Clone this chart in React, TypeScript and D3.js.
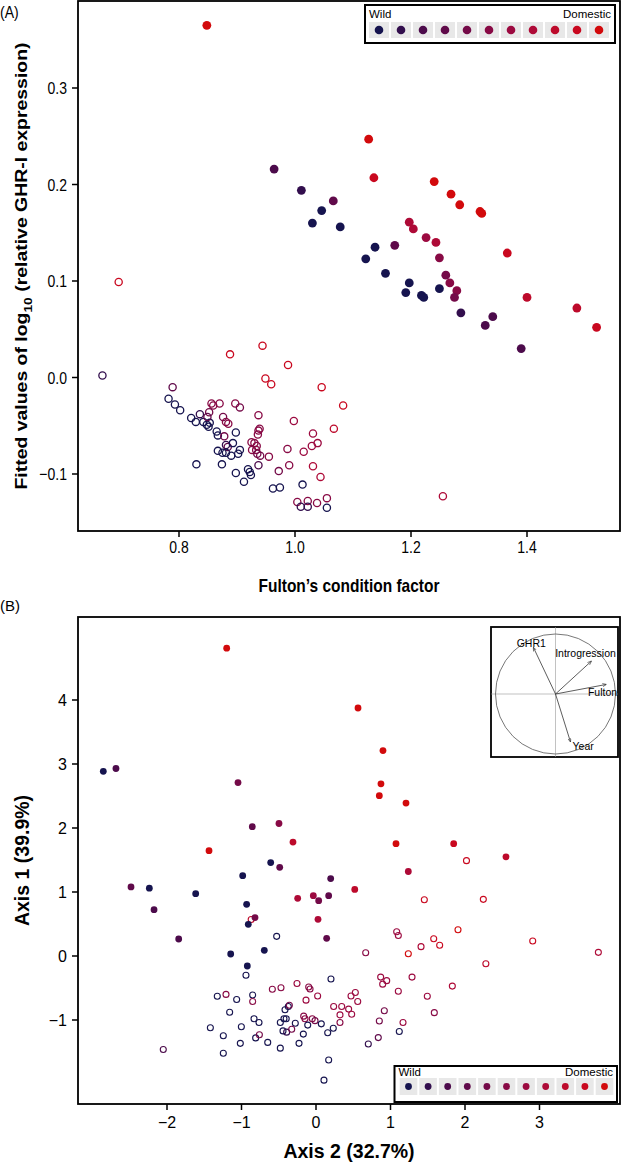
import React from "react";
import * as d3 from "d3";

// ---------- data ----------
const palette = ["#16144f", "#320e4d", "#4c0b4b", "#600a4a", "#740a48", "#880a45", "#9c0a40", "#ae0a37", "#bd0a2b", "#c9081f", "#d20a0c"];

// Panel A: [Fulton, fitted log10 GHR-I, colour index]
const aFilled: [number, number, number][] = [
  [0.848, 0.365, 10], [0.964, 0.216, 2], [1.011, 0.194, 1], [1.066, 0.183, 3], [1.046, 0.173, 0],
  [1.030, 0.160, 0], [1.078, 0.156, 0], [1.127, 0.247, 10], [1.136, 0.207, 9], [1.240, 0.203, 10],
  [1.269, 0.190, 10], [1.284, 0.179, 10], [1.319, 0.172, 10], [1.322, 0.170, 10], [1.366, 0.129, 9],
  [1.197, 0.161, 7], [1.204, 0.154, 7], [1.226, 0.145, 6], [1.243, 0.140, 7], [1.249, 0.124, 5],
  [1.260, 0.106, 4], [1.267, 0.098, 5], [1.279, 0.090, 5], [1.275, 0.083, 4], [1.138, 0.135, 0],
  [1.172, 0.137, 3], [1.122, 0.123, 0], [1.156, 0.108, 0], [1.197, 0.098, 0], [1.191, 0.088, 0],
  [1.218, 0.085, 0], [1.222, 0.083, 0], [1.249, 0.092, 0], [1.286, 0.067, 1], [1.341, 0.063, 2],
  [1.328, 0.054, 2], [1.400, 0.083, 8], [1.486, 0.072, 8], [1.520, 0.052, 9], [1.390, 0.030, 2],
];
const aOpen: [number, number, number][] = [
  [0.696, 0.099, 9], [0.668, 0.002, 1], [0.888, 0.024, 9], [0.944, 0.033, 9], [0.988, 0.013, 9],
  [0.949, -0.001, 9], [0.959, -0.007, 9], [1.046, -0.010, 9], [1.083, -0.029, 9], [0.789, -0.010, 3],
  [0.782, -0.022, 0], [0.793, -0.028, 0], [0.802, -0.034, 0], [0.821, -0.042, 0], [0.829, -0.046, 0],
  [0.836, -0.038, 1], [0.842, -0.046, 0], [0.848, -0.049, 0], [0.853, -0.047, 0], [0.851, -0.051, 0],
  [0.856, -0.027, 5], [0.859, -0.029, 5], [0.870, -0.027, 5], [0.852, -0.036, 4], [0.849, -0.041, 3],
  [0.897, -0.027, 5], [0.905, -0.031, 4], [0.876, -0.041, 4], [0.881, -0.046, 5], [0.885, -0.048, 5],
  [0.865, -0.056, 0], [0.867, -0.060, 0], [0.898, -0.057, 0], [0.878, -0.061, 4], [0.881, -0.070, 1],
  [0.884, -0.072, 3], [0.893, -0.068, 0], [0.867, -0.076, 0], [0.875, -0.078, 0], [0.881, -0.078, 0],
  [0.890, -0.081, 0], [0.905, -0.075, 0], [0.902, -0.079, 0], [0.937, -0.039, 5], [0.939, -0.053, 5],
  [0.937, -0.055, 5], [0.936, -0.059, 5], [0.925, -0.067, 5], [0.930, -0.068, 5], [0.934, -0.071, 5],
  [0.926, -0.075, 5], [0.933, -0.075, 5], [0.935, -0.079, 4], [0.940, -0.081, 4], [0.955, -0.082, 5],
  [0.998, -0.045, 6], [0.987, -0.074, 5], [1.015, -0.077, 6], [1.031, -0.058, 6], [1.029, -0.071, 6],
  [1.039, -0.068, 6], [1.067, -0.053, 8], [1.031, -0.092, 7], [0.990, -0.091, 5], [0.972, -0.097, 4],
  [1.044, -0.103, 7], [0.830, -0.090, 0], [0.874, -0.090, 0], [0.898, -0.099, 0], [0.919, -0.095, 0],
  [0.922, -0.098, 0], [0.924, -0.101, 0], [0.937, -0.091, 2], [0.912, -0.108, 0], [0.962, -0.115, 0],
  [0.974, -0.114, 0], [1.013, -0.111, 0], [1.004, -0.129, 5], [1.022, -0.128, 5], [1.038, -0.130, 5],
  [1.010, -0.134, 1], [1.022, -0.134, 1], [1.055, -0.125, 5], [1.055, -0.135, 0], [1.255, -0.123, 7],
];

// Panel B: [Axis 2, Axis 1, colour index]
const bFilled: [number, number, number][] = [
  [-1.199, 4.81, 10], [0.564, 3.875, 10], [0.899, 3.21, 10], [0.872, 2.69, 10], [0.85, 2.505, 10],
  [1.208, 2.39, 10], [-2.855, 2.885, 0], [-2.685, 2.93, 2], [-1.047, 2.71, 4], [-0.855, 2.02, 3],
  [-0.497, 2.07, 5], [-0.309, 1.78, 8], [-1.436, 1.645, 10], [1.074, 1.755, 10], [1.848, 1.755, 9],
  [2.55, 1.55, 8], [1.239, 1.32, 7], [-0.608, 1.46, 0], [-0.487, 1.385, 3], [-0.984, 1.255, 0],
  [0.197, 1.21, 2], [-2.483, 1.08, 3], [-2.237, 1.06, 0], [0.52, 1.04, 8], [-1.615, 0.974, 0],
  [-2.174, 0.724, 2], [-0.931, 0.807, 0], [-0.246, 0.901, 7], [-0.036, 0.943, 6], [0.036, 0.865, 4],
  [0.170, 0.943, 3], [0.027, 0.573, 7], [-0.819, 0.60, 4], [-0.909, 0.495, 0], [0.143, 0.276, 3],
  [-1.843, 0.266, 2], [-1.145, 0.031, 0], [-0.694, 0.089, 0], [-0.922, -0.156, 0],
];
const bOpen: [number, number, number][] = [
  [-0.87, 0.57, 8], [-0.528, 0.307, 0], [-0.94, -0.30, 0], [-1.325, -0.63, 0], [-1.208, -0.60, 5],
  [-1.065, -0.68, 0], [-0.85, -0.61, 0], [-0.85, -0.71, 5], [-1.159, -0.88, 0], [-1.418, -1.12, 0],
  [-1.244, -1.245, 0], [-1.002, -1.105, 0], [-1.016, -1.365, 0], [-1.244, -1.52, 0], [-2.05, -1.46, 2],
  [-0.832, -0.98, 0], [-0.765, -1.04, 0], [-0.81, -1.28, 0], [-0.76, -1.23, 4], [-0.648, -1.35, 0],
  [-0.479, -1.44, 0], [-0.586, -0.52, 5], [-0.47, -0.495, 5], [-0.255, -0.43, 6], [-0.098, -0.485, 5],
  [-0.08, -0.515, 5], [-0.134, -0.69, 6], [0.022, -0.625, 6], [0.201, -0.36, 0], [-0.416, -0.84, 0],
  [-0.372, -0.79, 0], [-0.358, -0.77, 4], [-0.43, -0.98, 0], [-0.40, -0.98, 0], [-0.479, -1.04, 0],
  [-0.278, -1.05, 0], [-0.443, -1.17, 0], [-0.394, -1.19, 1], [-0.326, -1.145, 4], [-0.165, -0.94, 5],
  [-0.148, -0.98, 5], [-0.111, -1.08, 0], [-0.05, -0.98, 5], [-0.013, -1.01, 4], [0.071, -1.06, 0],
  [-0.17, -1.22, 0], [-0.228, -1.365, 0], [0.157, -1.20, 0], [0.232, -1.13, 0], [0.17, -1.625, 0],
  [0.107, -1.94, 0], [0.237, -0.79, 6], [0.345, -0.79, 6], [0.322, -0.92, 6], [0.322, -1.04, 5],
  [0.438, -0.83, 6], [0.479, -0.91, 6], [0.47, -0.625, 6], [0.528, -0.57, 6], [0.56, -0.71, 6],
  [2.02, 1.49, 9], [1.454, 0.88, 9], [2.246, 0.885, 9], [1.906, 0.41, 10], [2.909, 0.234, 9],
  [3.79, 0.057, 7], [1.58, 0.27, 9], [1.66, 0.167, 9], [1.41, 0.146, 7], [1.239, 0.036, 10],
  [2.28, -0.12, 8], [1.083, 0.38, 6], [1.105, 0.32, 6], [0.667, 0.05, 5], [0.868, -0.33, 6],
  [0.949, -0.385, 6], [0.895, -0.44, 6], [1.289, -0.33, 6], [1.105, -0.55, 6], [1.83, -0.47, 7],
  [1.494, -0.63, 6], [1.588, -0.885, 5], [0.917, -0.855, 4], [0.85, -1.015, 4], [1.168, -1.04, 6],
  [1.118, -1.18, 0], [0.836, -1.275, 3], [0.702, -1.375, 1],
];

const aXTicks = [0.8, 1.0, 1.2, 1.4];
const aYTicks = [-0.1, 0.0, 0.1, 0.2, 0.3];
const bXTicks = [-2, -1, 0, 1, 2, 3];
const bYTicks = [-1, 0, 1, 2, 3, 4];

// correlation circle loadings: [label, axis2, axis1]
const loadings: [string, number, number][] = [
  ["GHR1", -0.37, 0.78],
  ["Introgression", 0.6, 0.55],
  ["Fulton", 0.85, 0.16],
  ["Year", 0.25, -0.8],
];
const legendEnds = ["Wild", "Domestic"];

const FONT = "'Liberation Sans', Arial, Helvetica, sans-serif";
const KA = 1.2; // vertical stretch of panel A text

function Legend({ x0, step, right, top, bottom, cellTop, cellH, dotY, r, textY }: any) {
  const left = x0 - 14;
  return (
    <g>
      <rect x={left} y={top} width={right - left} height={bottom - top} fill="white" stroke="black" strokeWidth={2} />
      {palette.map((c, i) => (
        <g key={i}>
          <rect x={x0 + i * step - (step - 2) / 2} y={cellTop} width={step - 2} height={cellH} fill="#e8e8e8" />
          <circle cx={x0 + i * step} cy={dotY} r={r} fill={c} />
        </g>
      ))}
      <text x={left + 4} y={textY} fontSize={11.5} fontFamily={FONT}>{legendEnds[0]}</text>
      <text x={right - 4} y={textY} fontSize={11.5} fontFamily={FONT} textAnchor="end">{legendEnds[1]}</text>
    </g>
  );
}

export default function App() {
  const L = 78, R = 620;
  // Panel A
  const aTop = 1, aBot = 531;
  const xA = d3.scaleLinear().domain([0.8, 1.4]).range([179, 527]);
  const yA = d3.scaleLinear().domain([0, 0.3]).range([377.5, 88]);
  // Panel B
  const bTop = 617, bBot = 1104;
  const xB = d3.scaleLinear().domain([0, 3]).range([316, 539.5]);
  const yB = d3.scaleLinear().domain([0, 4]).range([956, 700]);
  // Inset
  const ix = 491, iy = 627, iw = 127, ih = 130;
  const cx = 555.5, cy = 694, cr = 60;
  const sx = d3.scaleLinear().domain([-1, 1]).range([cx - cr, cx + cr]);
  const sy = d3.scaleLinear().domain([-1, 1]).range([cy + cr, cy - cr]);
  const labelOffsets: Record<string, [number, number, string]> = {
    GHR1: [-2, -0.5, "middle"],
    Introgression: [-6, -4, "middle"],
    Fulton: [-4, 12, "middle"],
    Year: [2, 8, "start"],
  };

  const fmtA = (t: number) => (t < 0 ? "\u2212" + Math.abs(t).toFixed(1) : t.toFixed(1));
  const fmtB = (t: number) => (t < 0 ? "\u2212" + Math.abs(t) : String(t));

  return (
    <svg width={624} height={1166} style={{ position: "absolute", left: 0, top: 0, background: "white" }} fontFamily={FONT}>
      <defs>
        <marker id="ah" viewBox="0 0 10 10" refX="10" refY="5" markerWidth="5" markerHeight="5" orient="auto">
          <path d="M0,1 L10,5 L0,9" fill="none" stroke="#333" strokeWidth={1.5} />
        </marker>
      </defs>

      {/* ---------- Panel A ---------- */}
      <text transform={`translate(0,18) scale(1,${KA})`} fontSize={14}>(A)</text>
      {aOpen.map((d, i) => (
        <circle key={"ao" + i} cx={xA(d[0])} cy={yA(d[1])} r={3.6} fill="none" stroke={palette[d[2]]} strokeWidth={1.3} />
      ))}
      {aFilled.map((d, i) => (
        <circle key={"af" + i} cx={xA(d[0])} cy={yA(d[1])} r={4.4} fill={palette[d[2]]} />
      ))}
      <rect x={L} y={aTop} width={R - L} height={aBot - aTop} fill="none" stroke="black" strokeWidth={1.8} />
      {aXTicks.map((t) => (
        <g key={"axt" + t}>
          <line x1={xA(t)} x2={xA(t)} y1={aBot} y2={aBot + 6} stroke="black" strokeWidth={1.5} />
          <text transform={`translate(${xA(t)},${aBot + 22}) scale(1,${KA})`} fontSize={14} textAnchor="middle">{fmtA(t)}</text>
        </g>
      ))}
      {aYTicks.map((t) => (
        <g key={"ayt" + t}>
          <line x1={L - 6} x2={L} y1={yA(t)} y2={yA(t)} stroke="black" strokeWidth={1.5} />
          <text transform={`translate(${L - 11},${yA(t) + 6}) scale(1,${KA})`} fontSize={14} textAnchor="end">{fmtA(t)}</text>
        </g>
      ))}
      <text transform={`translate(${(L + R) / 2},592) scale(1,${KA})`} fontSize={15.5} fontWeight="bold" textAnchor="middle">Fulton’s condition factor</text>
      <text transform={`translate(27,${(aTop + aBot) / 2}) scale(1,${KA}) rotate(-90)`} fontSize={16.2} fontWeight="bold" textAnchor="middle">
        Fitted values of log<tspan dy={5} fontSize={11.5}>10</tspan><tspan dy={-5}> (relative GHR-I expression)</tspan>
      </text>
      <Legend x0={379} step={22} right={615} top={5} bottom={43} cellTop={22} cellH={16} dotY={30} r={4.3} textY={18} />

      {/* ---------- Panel B ---------- */}
      <text x={0} y={611} fontSize={15}>(B)</text>
      {bOpen.map((d, i) => (
        <circle key={"bo" + i} cx={xB(d[0])} cy={yB(d[1])} r={3.0} fill="none" stroke={palette[d[2]]} strokeWidth={1.1} />
      ))}
      {bFilled.map((d, i) => (
        <circle key={"bf" + i} cx={xB(d[0])} cy={yB(d[1])} r={3.4} fill={palette[d[2]]} />
      ))}
      <rect x={L} y={bTop} width={R - L} height={bBot - bTop} fill="none" stroke="black" strokeWidth={1.8} />
      {bXTicks.map((t) => (
        <g key={"bxt" + t}>
          <line x1={xB(t)} x2={xB(t)} y1={bBot} y2={bBot + 6} stroke="black" strokeWidth={1.5} />
          <text x={xB(t)} y={bBot + 24} fontSize={16} textAnchor="middle">{fmtB(t)}</text>
        </g>
      ))}
      {bYTicks.map((t) => (
        <g key={"byt" + t}>
          <line x1={L - 6} x2={L} y1={yB(t)} y2={yB(t)} stroke="black" strokeWidth={1.5} />
          <text x={L - 11} y={yB(t) + 6} fontSize={16} textAnchor="end">{fmtB(t)}</text>
        </g>
      ))}
      <text x={(L + R) / 2} y={1158} fontSize={19.5} fontWeight="bold" textAnchor="middle">Axis 2 (32.7%)</text>
      <text transform={`translate(29,${(bTop + bBot) / 2}) rotate(-90)`} fontSize={19.5} fontWeight="bold" textAnchor="middle">Axis 1 (39.9%)</text>

      {/* inset correlation circle */}
      <rect x={ix} y={iy} width={iw} height={ih} fill="white" stroke="black" strokeWidth={1.8} />
      <line x1={ix} x2={ix + iw} y1={cy} y2={cy} stroke="#999" strokeWidth={0.6} />
      <line x1={cx} x2={cx} y1={iy} y2={iy + ih} stroke="#999" strokeWidth={0.6} />
      <circle cx={cx} cy={cy} r={cr} fill="none" stroke="#555" strokeWidth={0.8} />
      {loadings.map(([name, a, b]) => {
        const o = labelOffsets[name];
        return (
          <g key={name}>
            <line x1={cx} y1={cy} x2={sx(a)} y2={sy(b)} stroke="#333" strokeWidth={0.8} markerEnd="url(#ah)" />
            <text x={sx(a) + o[0]} y={sy(b) + o[1]} fontSize={10.5} textAnchor={o[2]}>{name}</text>
          </g>
        );
      })}

      <Legend x0={408.5} step={19.6} right={617} top={1066} bottom={1102} cellTop={1078} cellH={17} dotY={1086.5} r={3.4} textY={1076} />
    </svg>
  );
}
